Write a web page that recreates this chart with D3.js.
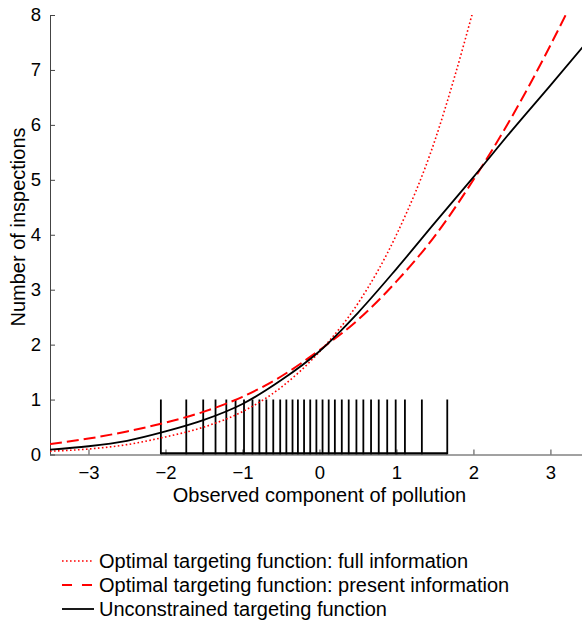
<!DOCTYPE html>
<html>
<head>
<meta charset="utf-8">
<script src="https://cdn.jsdelivr.net/npm/d3@7"></script>
<style>
  body { margin: 0; background: #fff; }
  svg { font-family: "Liberation Sans", Arial, sans-serif; }
</style>
</head>
<body>
<svg id="chart" width="582" height="622"></svg>
<script>
var fullX = [-3.5, -3, -2.5, -2, -1.5, -1, -0.5, 0, 0.5, 1, 1.5, 1.75, 2];
var fullY = [0.06, 0.10, 0.18, 0.32, 0.50, 0.78, 1.22, 1.87, 2.75, 4.00, 5.72, 6.85, 8.1];

var presentX = [-3.5, -3, -2.5, -2, -1.5, -1, -0.5, 0, 0.5, 1, 1.5, 2, 2.5, 3, 3.25, 3.5];
var presentY = [0.19, 0.29, 0.42, 0.58, 0.78, 1.05, 1.42, 1.90, 2.45, 3.15, 3.98, 5.00, 6.15, 7.45, 8.15, 8.9];

var unconX = [-3.5, -3, -2.5, -2, -1.5, -1, -0.5, 0, 0.5, 1, 1.5, 2, 2.5, 3, 3.5];
var unconY = [0.09, 0.15, 0.25, 0.42, 0.63, 0.92, 1.35, 1.88, 2.58, 3.38, 4.22, 5.05, 5.90, 6.72, 7.55];

// observed pollution values (rug)
var rug = [-2.06, -1.73, -1.51, -1.35, -1.21, -1.09, -0.98, -0.87, -0.78, -0.69, -0.60, -0.51,
           -0.43, -0.35, -0.28, -0.20, -0.12, -0.04, 0.04, 0.12, 0.20, 0.29, 0.38, 0.48,
           0.57, 0.67, 0.77, 0.88, 0.99, 1.11, 1.33, 1.66];

var xTicks = [-3, -2, -1, 0, 1, 2, 3];
var yTicks = [0, 1, 2, 3, 4, 5, 6, 7, 8];

var legendLabels = ['Optimal targeting function: full information',
                    'Optimal targeting function: present information',
                    'Unconstrained targeting function'];

var svg = d3.select('#chart');
var x = d3.scaleLinear().domain([-3.5, 3.41]).range([50, 582]);
var y = d3.scaleLinear().domain([0, 8]).range([454.5, 15]);

svg.append('defs').append('clipPath').attr('id', 'plot')
  .append('rect')
  .attr('x', x.range()[0]).attr('y', y.range()[1])
  .attr('width', x.range()[1] - x.range()[0])
  .attr('height', y.range()[0] - y.range()[1]);

// axes
var xAxis = svg.append('g')
  .attr('transform', 'translate(0,' + y(0) + ')')
  .call(d3.axisBottom(x).tickValues(xTicks).tickSize(-5).tickPadding(11).tickFormat(d3.format('d')));
var yAxis = svg.append('g')
  .attr('transform', 'translate(' + x(-3.5) + ',0)')
  .call(d3.axisLeft(y).tickValues(yTicks).tickSize(-5).tickPadding(9));

[xAxis, yAxis].forEach(function(g) {
  g.select('.domain').attr('stroke', '#444').attr('stroke-width', 1);
  g.selectAll('.tick line').attr('stroke', '#444');
  g.selectAll('.tick text').attr('fill', '#000').style('font-size', '18.5px')
    .style('font-family', '"Liberation Sans", Arial, sans-serif');
});
xAxis.select('.domain').attr('d', 'M' + x.range()[0] + ',0.5H' + x.range()[1]);
yAxis.select('.domain').attr('d', 'M0.5,' + y.range()[0] + 'V' + y.range()[1]);

svg.append('text')
  .attr('x', x(0)).attr('y', 502)
  .attr('text-anchor', 'middle')
  .style('font-size', '20px')
  .text('Observed component of pollution');
svg.append('text')
  .attr('transform', 'translate(25,' + 227 + ') rotate(-90)')
  .attr('text-anchor', 'middle')
  .style('font-size', '20px')
  .text('Number of inspections');

// rug of observed values
var plot = svg.append('g').attr('clip-path', 'url(#plot)');
plot.selectAll('line.rug')
  .data(rug)
  .enter().append('line')
  .attr('class', 'rug')
  .attr('x1', function(d) { return x(d); })
  .attr('x2', function(d) { return x(d); })
  .attr('y1', y(0))
  .attr('y2', y(1))
  .attr('stroke', '#000')
  .attr('stroke-width', 1.8);
plot.append('line')
  .attr('x1', x(d3.min(rug))).attr('x2', x(d3.max(rug)))
  .attr('y1', y(0) - 1).attr('y2', y(0) - 1)
  .attr('stroke', '#000').attr('stroke-width', 2.5);

var series = [
  { xs: fullX, ys: fullY, color: '#ff0000', width: 1.6, dash: '1.6,2.4' },
  { xs: presentX, ys: presentY, color: '#ff0000', width: 2, dash: '12,5' },
  { xs: unconX, ys: unconY, color: '#000', width: 1.8, dash: null }
];

var line = d3.line()
  .x(function(d) { return x(d[0]); })
  .y(function(d) { return y(d[1]); })
  .curve(d3.curveMonotoneX);

series.forEach(function(s) {
  plot.append('path')
    .datum(d3.zip(s.xs, s.ys))
    .attr('d', line)
    .attr('fill', 'none')
    .attr('stroke', s.color)
    .attr('stroke-width', s.width)
    .attr('stroke-dasharray', s.dash);
});

// legend
var legend = svg.append('g');
var legendDash = ['1.6,2.4', '10,10', null];
legendLabels.forEach(function(label, i) {
  var ly = 561 + i * 24;
  legend.append('line')
    .attr('x1', 62).attr('x2', 94)
    .attr('y1', ly).attr('y2', ly)
    .attr('stroke', series[i].color)
    .attr('stroke-width', series[i].width)
    .attr('stroke-dasharray', legendDash[i]);
  legend.append('text')
    .attr('x', 99).attr('y', ly + 7)
    .style('font-size', '20px')
    .text(label);
});
</script>
</body>
</html>
